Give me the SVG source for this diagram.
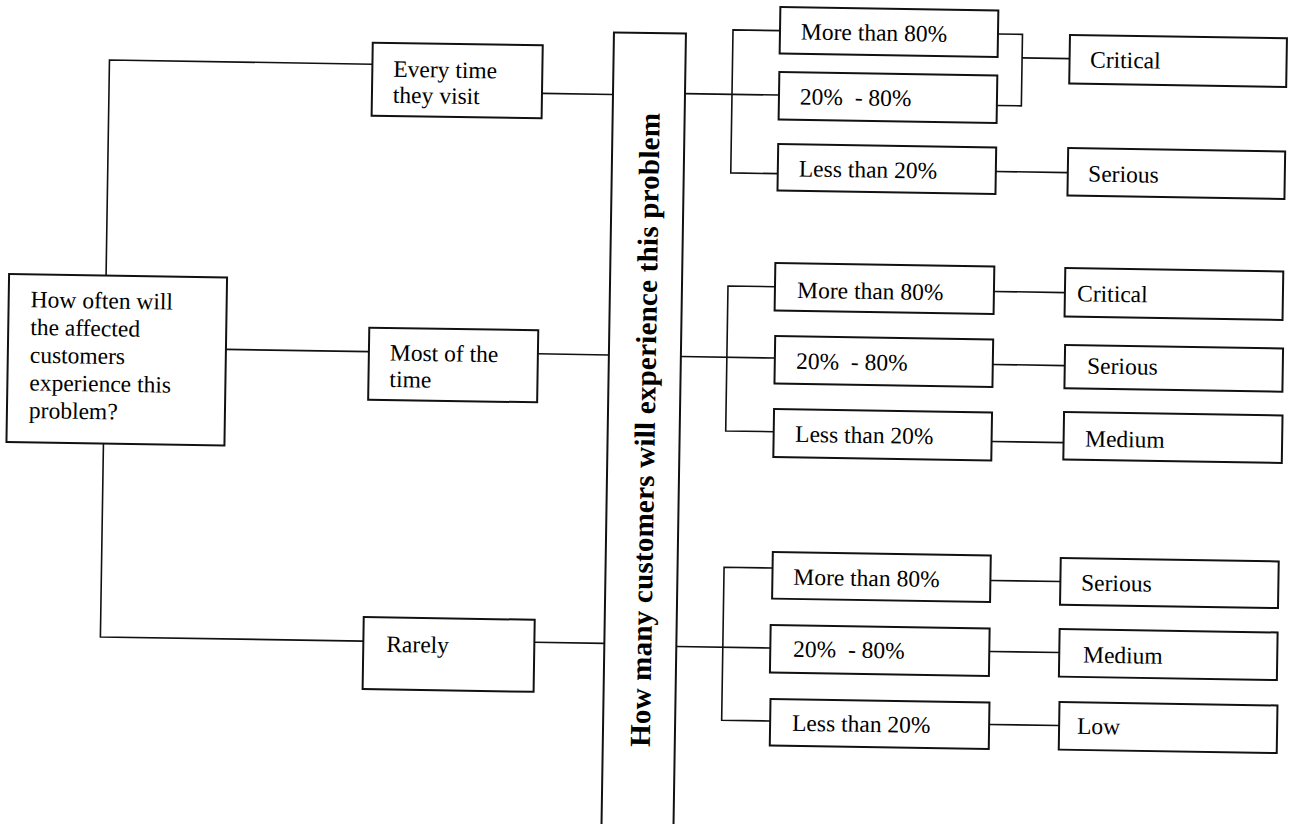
<svg xmlns="http://www.w3.org/2000/svg" width="1290" height="824" viewBox="0 0 1290 824">
  <style>
    .box { fill: #fff; stroke: #111; stroke-width: 2; }
    .wire { fill: none; stroke: #111; stroke-width: 1.6; }
    .lbl { font-family: "Liberation Serif", "Times New Roman", serif; font-size: 23.5px; fill: #000; }
    .axis { font-family: "Liberation Serif", "Times New Roman", serif; font-size: 29px; font-weight: bold; fill: #000; }
  </style>
  <rect width="1290" height="824" fill="#fff"/>
  <!-- the whole sheet sits at a slight tilt -->
  <g transform="rotate(0.9 645 412)">
    <g id="connectors" class="wire">
      <!-- question to frequency answers -->
      <path d="M104 284 V68.5 H367"/>
      <path d="M225 356 H368"/>
      <path d="M104 452 V645.5 H367"/>
      <!-- frequency answers to second question -->
      <path d="M537 95 H608"/>
      <path d="M537 355.5 H608"/>
      <path d="M538 644 H608"/>
      <!-- block 1: every time -->
      <path d="M680 93 H774"/>
      <path d="M774 28.6 H727 V171.6 H774"/>
      <path d="M992 28.5 H1016.5 V100 H992"/>
      <path d="M1016.5 52 H1064"/>
      <path d="M992 166 H1064"/>
      <!-- block 2: most of the time -->
      <path d="M680 356 H774"/>
      <path d="M773 284.7 H726 V429.7 H774"/>
      <path d="M992 286 H1063"/>
      <path d="M992 359 H1064"/>
      <path d="M992 436 H1064"/>
      <!-- block 3: rarely -->
      <path d="M680 646 H774"/>
      <path d="M775 566 H726.5 V719 H775"/>
      <path d="M993 575 H1063"/>
      <path d="M993 646 H1063"/>
      <path d="M994 719 H1064"/>
    </g>

    <g id="q-often">
      <rect class="box" x="7" y="284" width="218" height="168"/>
      <text class="lbl">
        <tspan x="29" y="317">How often will</tspan>
        <tspan x="29" y="344.7">the affected</tspan>
        <tspan x="29" y="372.4">customers</tspan>
        <tspan x="29" y="400.1">experience this</tspan>
        <tspan x="29" y="427.8">problem?</tspan>
      </text>
    </g>

    <g id="f-every">
      <rect class="box" x="367" y="47" width="170" height="73"/>
      <text class="lbl"><tspan x="388" y="80.8">Every time</tspan><tspan x="388" y="106.8">they visit</tspan></text>
    </g>
    <g id="f-most">
      <rect class="box" x="368" y="332" width="169" height="72"/>
      <text class="lbl"><tspan x="389" y="364.5">Most of the</tspan><tspan x="389" y="391">time</tspan></text>
    </g>
    <g id="f-rarely">
      <rect class="box" x="367" y="621.5" width="171" height="72"/>
      <text class="lbl" x="390" y="656">Rarely</text>
    </g>

    <g id="q-many">
      <rect class="box" x="608" y="33" width="72" height="820"/>
      <text class="axis" x="655" y="430" text-anchor="middle" textLength="634" lengthAdjust="spacing" transform="rotate(-90 655 430)">How many customers will experience this problem</text>
    </g>

    <!-- block 1 -->
    <g id="b1-more">
      <rect class="box" x="774" y="5" width="218" height="46.5"/>
      <text class="lbl" x="795" y="37">More than 80%</text>
    </g>
    <g id="b1-mid">
      <rect class="box" x="774" y="70" width="218" height="47.5"/>
      <text class="lbl" x="795" y="102">20%&#160; - 80%</text>
    </g>
    <g id="b1-less">
      <rect class="box" x="774" y="142" width="218" height="46.5"/>
      <text class="lbl" x="795" y="174">Less than 20%</text>
    </g>
    <g id="b1-critical">
      <rect class="box" x="1064" y="28.3" width="217" height="48.6"/>
      <text class="lbl" x="1084.6" y="60.5">Critical</text>
    </g>
    <g id="b1-serious">
      <rect class="box" x="1064" y="141.4" width="217" height="47.6"/>
      <text class="lbl" x="1084.4" y="174.7">Serious</text>
    </g>

    <!-- block 2 -->
    <g id="b2-more">
      <rect class="box" x="773" y="261" width="219" height="47.5"/>
      <text class="lbl" x="795.3" y="295.5">More than 80%</text>
    </g>
    <g id="b2-mid">
      <rect class="box" x="774" y="334" width="218" height="47.5"/>
      <text class="lbl" x="795.3" y="366.5">20%&#160; - 80%</text>
    </g>
    <g id="b2-less">
      <rect class="box" x="774" y="407" width="218" height="48"/>
      <text class="lbl" x="795.5" y="439.5">Less than 20%</text>
    </g>
    <g id="b2-critical">
      <rect class="box" x="1063" y="261.4" width="218" height="48.6"/>
      <text class="lbl" x="1075.3" y="294.5">Critical</text>
    </g>
    <g id="b2-serious">
      <rect class="box" x="1064" y="338.4" width="218" height="43.3"/>
      <text class="lbl" x="1086.4" y="366.7">Serious</text>
    </g>
    <g id="b2-medium">
      <rect class="box" x="1064" y="405.4" width="218.5" height="47.6"/>
      <text class="lbl" x="1085.5" y="439.6">Medium</text>
    </g>

    <!-- block 3 -->
    <g id="b3-more">
      <rect class="box" x="775" y="550" width="218" height="46.6"/>
      <text class="lbl" x="796" y="582.4">More than 80%</text>
    </g>
    <g id="b3-mid">
      <rect class="box" x="774" y="623" width="219" height="47.6"/>
      <text class="lbl" x="796.9" y="654.4">20%&#160; - 80%</text>
    </g>
    <g id="b3-less">
      <rect class="box" x="775" y="697" width="219" height="46.6"/>
      <text class="lbl" x="797" y="728.4">Less than 20%</text>
    </g>
    <g id="b3-serious">
      <rect class="box" x="1063" y="551.5" width="218" height="46.6"/>
      <text class="lbl" x="1083.8" y="583.7">Serious</text>
    </g>
    <g id="b3-medium">
      <rect class="box" x="1063" y="622.5" width="218" height="47.6"/>
      <text class="lbl" x="1086.9" y="655.7">Medium</text>
    </g>
    <g id="b3-low">
      <rect class="box" x="1064" y="695.5" width="218" height="47.6"/>
      <text class="lbl" x="1082" y="727">Low</text>
    </g>
  </g>
</svg>
